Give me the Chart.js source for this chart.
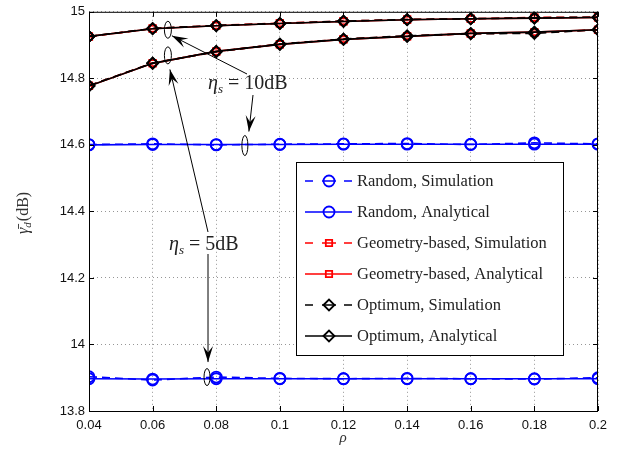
<!DOCTYPE html>
<html>
<head>
<meta charset="utf-8">
<script src="https://cdn.jsdelivr.net/npm/chart.js@4.4.1/dist/chart.umd.min.js"></script>
<style>
html, body { margin: 0; background: #fff; }
</style>
</head>
<body>
<canvas id="myChart" width="621" height="451"></canvas>
<script>
// x axis values (rho)
var rho = [0.04, 0.06, 0.08, 0.1, 0.12, 0.14, 0.16, 0.18, 0.2];
var yTicks = [13.8, 14, 14.2, 14.4, 14.6, 14.8, 15];

// eta_s = 10dB
var random10Sim = [14.601, 14.603, 14.600, 14.602, 14.603, 14.604, 14.601, 14.606, 14.603];
var random10Ana = [14.600, 14.601, 14.601, 14.601, 14.602, 14.602, 14.602, 14.602, 14.602];
var geo10Sim = [14.925, 14.950, 14.959, 14.966, 14.972, 14.977, 14.979, 14.983, 14.984];
var geo10Ana = [14.926, 14.949, 14.958, 14.965, 14.971, 14.976, 14.979, 14.981, 14.983];
var opt10Sim = [14.926, 14.950, 14.959, 14.965, 14.972, 14.977, 14.979, 14.982, 14.984];
var opt10Ana = [14.926, 14.949, 14.958, 14.965, 14.971, 14.976, 14.979, 14.981, 14.983];

// eta_s = 5dB
var random5Sim = [13.903, 13.893, 13.902, 13.898, 13.897, 13.898, 13.897, 13.896, 13.900];
var random5Ana = [13.897, 13.896, 13.897, 13.897, 13.897, 13.897, 13.897, 13.897, 13.897];
var geo5Sim = [14.778, 14.846, 14.880, 14.903, 14.918, 14.927, 14.934, 14.937, 14.946];
var geo5Ana = [14.777, 14.845, 14.881, 14.902, 14.917, 14.926, 14.935, 14.939, 14.946];
var opt5Sim = [14.778, 14.846, 14.880, 14.903, 14.918, 14.928, 14.934, 14.935, 14.946];
var opt5Ana = [14.777, 14.845, 14.881, 14.902, 14.917, 14.926, 14.935, 14.939, 14.946];

var legendNames = ['Random, Simulation', 'Random, Analytical', 'Geometry-based, Simulation',
    'Geometry-based, Analytical', 'Optimum, Simulation', 'Optimum, Analytical'];

var BLUE = 'rgb(0,0,255)', RED = 'rgb(255,0,0)', BLACK = 'rgb(0,0,0)';
var DASH = [8, 5];
var NONE = 'rgba(0,0,0,0)';

function pts(ys) {
    return ys.map(function(y, i) { return { x: rho[i], y: y }; });
}

function ds(ys, color, shape, dashed, radius) {
    return {
        data: pts(ys),
        borderColor: color,
        backgroundColor: NONE,
        borderWidth: 1.6,
        borderDash: dashed ? DASH : [],
        pointStyle: shape,
        pointRadius: radius,
        pointBorderWidth: 1.8,
        pointBorderColor: color,
        pointBackgroundColor: NONE,
        tension: 0
    };
}

// chart.js draws the first dataset on top, so black goes first
var datasets = [
    ds(opt10Ana, BLACK, 'rectRot', false, 5.5),
    ds(opt10Sim, BLACK, 'rectRot', true, 5.5),
    ds(opt5Ana, BLACK, 'rectRot', false, 5.5),
    ds(opt5Sim, BLACK, 'rectRot', true, 5.5),
    ds(geo10Ana, RED, 'rect', false, 4.5),
    ds(geo10Sim, RED, 'rect', true, 4.5),
    ds(geo5Ana, RED, 'rect', false, 4.5),
    ds(geo5Sim, RED, 'rect', true, 4.5),
    ds(random10Ana, BLUE, 'circle', false, 5.5),
    ds(random10Sim, BLUE, 'circle', true, 5.5),
    ds(random5Ana, BLUE, 'circle', false, 5.5),
    ds(random5Sim, BLUE, 'circle', true, 5.5)
];

// legend entries: color, marker, dashed
var legendItems = [
    [BLUE, 'circle', true], [BLUE, 'circle', false],
    [RED, 'rect', true], [RED, 'rect', false],
    [BLACK, 'rectRot', true], [BLACK, 'rectRot', false]
];

function arrow(ctx, x1, y1, x2, y2) {
    ctx.beginPath();
    ctx.moveTo(x1, y1);
    ctx.lineTo(x2, y2);
    ctx.stroke();
    var a = Math.atan2(y2 - y1, x2 - x1);
    var L = 16, W = 5;
    ctx.beginPath();
    ctx.moveTo(x2, y2);
    ctx.lineTo(x2 - L * Math.cos(a) + W * Math.sin(a), y2 - L * Math.sin(a) - W * Math.cos(a));
    ctx.lineTo(x2 - 0.6 * L * Math.cos(a), y2 - 0.6 * L * Math.sin(a));
    ctx.lineTo(x2 - L * Math.cos(a) - W * Math.sin(a), y2 - L * Math.sin(a) + W * Math.cos(a));
    ctx.closePath();
    ctx.fill();
}

function ellipse(ctx, x, y, rx, ry) {
    ctx.beginPath();
    ctx.ellipse(x, y, rx, ry, 0, 0, Math.PI * 2);
    ctx.stroke();
}

// "eta_s = value" with a subscript, roughly LaTeX spacing
function etaText(ctx, x, y, val) {
    ctx.textBaseline = 'alphabetic';
    ctx.textAlign = 'left';
    ctx.fillStyle = '#222';
    ctx.font = 'italic 20px "Liberation Serif"';
    ctx.fillText('\u03b7', x, y);
    var w = ctx.measureText('\u03b7').width;
    ctx.font = 'italic 13px "Liberation Serif"';
    ctx.fillText('s', x + w, y + 4);
    w += ctx.measureText('s').width + 5;
    ctx.font = '20px "Liberation Serif"';
    ctx.fillText('=', x + w, y);
    w += ctx.measureText('=').width + 5;
    ctx.fillText(val, x + w, y);
}

var extras = {
    id: 'extras',
    afterDatasetsDraw: function(chart) {
        var ctx = chart.ctx, a = chart.chartArea;
        var xs = chart.scales.x, ys = chart.scales.y;
        ctx.save();

        // frame with inward ticks
        ctx.strokeStyle = '#000';
        ctx.lineWidth = 1;
        ctx.strokeRect(a.left + 0.5, a.top + 0.5, a.right - a.left - 1, a.bottom - a.top);
        ctx.beginPath();
        rho.forEach(function(v) {
            var px = Math.round(xs.getPixelForValue(v)) + 0.5;
            ctx.moveTo(px, a.bottom); ctx.lineTo(px, a.bottom - 5);
            ctx.moveTo(px, a.top); ctx.lineTo(px, a.top + 5);
        });
        yTicks.forEach(function(v) {
            var py = Math.round(ys.getPixelForValue(v)) + 0.5;
            ctx.moveTo(a.left, py); ctx.lineTo(a.left + 5, py);
            ctx.moveTo(a.right, py); ctx.lineTo(a.right - 5, py);
        });
        ctx.stroke();

        // annotations
        ctx.strokeStyle = '#000';
        ctx.fillStyle = '#000';
        ctx.lineWidth = 1;
        var eA = [xs.getPixelForValue(0.0648), ys.getPixelForValue(14.946)];
        var eB = [xs.getPixelForValue(0.0648), ys.getPixelForValue(14.869)];
        var eC = [xs.getPixelForValue(0.0890), ys.getPixelForValue(14.598)];
        var eD = [xs.getPixelForValue(0.0771), ys.getPixelForValue(13.902)];
        ellipse(ctx, eA[0], eA[1], 3.5, 8.5);
        ellipse(ctx, eB[0], eB[1], 3.5, 8.5);
        ellipse(ctx, eC[0], eC[1], 3, 10);
        ellipse(ctx, eD[0], eD[1], 3, 8.5);

        arrow(ctx, 247, 74, eA[0] + 4, eA[1] + 6);
        arrow(ctx, 253, 95, eC[0] + 4, eC[1] - 14);
        arrow(ctx, 208, 232, eB[0] + 2, eB[1] + 14);
        arrow(ctx, 208, 254, eD[0] + 1, eD[1] - 15);

        etaText(ctx, 208, 89, '10dB');
        etaText(ctx, 169, 250, '5dB');

        // legend
        var lx = 296, ly = 162, lw = 267, lh = 193;
        ctx.fillStyle = '#fff';
        ctx.fillRect(lx, ly, lw, lh);
        ctx.strokeStyle = '#000';
        ctx.strokeRect(lx + 0.5, ly + 0.5, lw, lh);
        ctx.font = '16.5px "Liberation Serif"';
        ctx.textBaseline = 'middle';
        ctx.textAlign = 'left';
        legendItems.forEach(function(it, i) {
            var cy = 181 + i * 31;
            ctx.strokeStyle = it[0];
            ctx.lineWidth = 1.6;
            ctx.beginPath();
            if (it[2]) {
                ctx.moveTo(305, cy); ctx.lineTo(313, cy);
                ctx.moveTo(322, cy); ctx.lineTo(336, cy);
                ctx.moveTo(344, cy); ctx.lineTo(352, cy);
            } else {
                ctx.moveTo(305, cy); ctx.lineTo(352, cy);
            }
            ctx.stroke();
            ctx.lineWidth = 1.8;
            ctx.fillStyle = NONE;
            Chart.helpers.drawPoint(ctx, {
                pointStyle: it[1],
                radius: it[1] === 'rect' ? 4.5 : 5.5,
                rotation: 0,
                borderWidth: 1.8
            }, 329, cy);
            ctx.fillStyle = '#222';
            ctx.fillText(legendNames[i], 357, cy + 1);
        });

        // axis titles
        ctx.fillStyle = '#333';
        ctx.textAlign = 'center';
        ctx.textBaseline = 'alphabetic';
        ctx.font = 'italic 15px "Liberation Serif"';
        ctx.fillText('\u03c1', 343, 442);

        ctx.translate(28, 206);
        ctx.rotate(-Math.PI / 2);
        ctx.textAlign = 'left';
        ctx.font = 'italic 16px "Liberation Serif"';
        var tx = -28;
        ctx.fillText('\u03b3\u0304', tx, 0);
        tx += ctx.measureText('\u03b3').width;
        ctx.font = 'italic 11px "Liberation Serif"';
        ctx.fillText('d', tx, 3);
        tx += ctx.measureText('d').width;
        ctx.font = '16px "Liberation Serif"';
        ctx.fillText('(dB)', tx + 1, 0);

        ctx.restore();
    }
};

var gridOpts = { color: 'rgb(150,150,150)', lineWidth: 1, drawTicks: false };

new Chart(document.getElementById('myChart'), {
    type: 'line',
    data: { datasets: datasets },
    options: {
        responsive: false,
        animation: false,
        layout: { padding: { left: 0, top: 8, right: 23, bottom: 0 } },
        plugins: { legend: { display: false }, tooltip: { enabled: false } },
        scales: {
            x: {
                type: 'linear',
                min: 0.04, max: 0.2,
                afterBuildTicks: function(s) { s.ticks = rho.map(function(v) { return { value: v }; }); },
                afterFit: function(s) { s.height = 40; },
                grid: gridOpts,
                border: { display: false, dash: [1, 3] },
                ticks: {
                    padding: 7,
                    color: '#111',
                    font: { family: '"Liberation Sans"', size: 13 },
                    maxRotation: 0,
                    callback: function(v) { return String(Number(v.toFixed(2))); }
                }
            },
            y: {
                min: 13.8, max: 15,
                afterBuildTicks: function(s) { s.ticks = yTicks.map(function(v) { return { value: v }; }); },
                afterFit: function(s) { s.width = 89; },
                grid: gridOpts,
                border: { display: false, dash: [1, 3] },
                ticks: {
                    padding: 4,
                    color: '#111',
                    font: { family: '"Liberation Sans"', size: 13 },
                    callback: function(v) { return String(Number(v.toFixed(1))); }
                }
            }
        }
    },
    plugins: [extras]
});
</script>
</body>
</html>
